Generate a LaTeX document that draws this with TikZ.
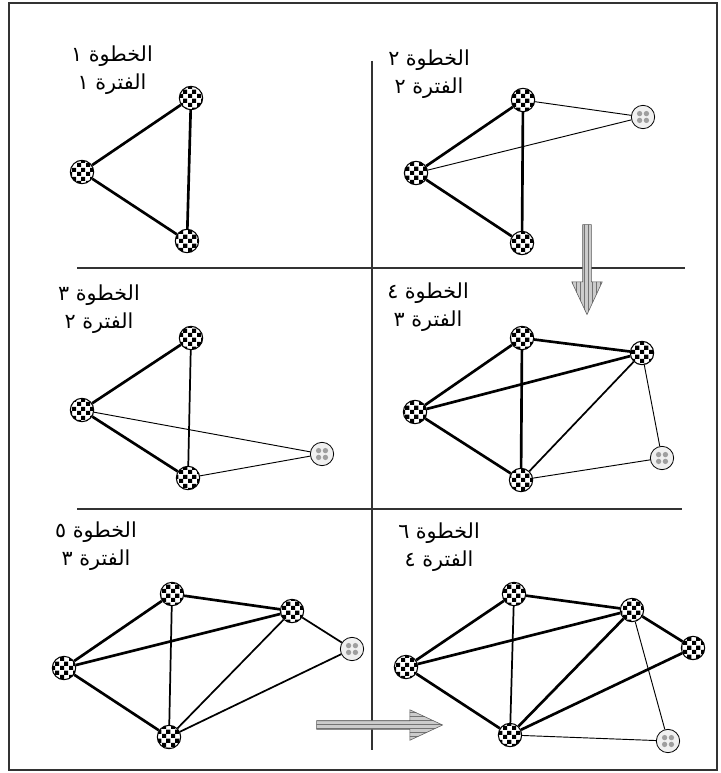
\documentclass[tikz,border=0pt]{standalone}
\usepackage{fontspec}
\newfontfamily\arabicfont[Script=Arabic]{DejaVu Sans}
\TeXXeTstate=1
\usepackage{tikz}
\usetikzlibrary{patterns,shapes.arrows}
\pgfdeclarepatternformonly{bigchecker}{\pgfpointorigin}{\pgfqpoint{6.4pt}{6.4pt}}{\pgfqpoint{6.4pt}{6.4pt}}{%
  \pgfpathrectangle{\pgfpointorigin}{\pgfqpoint{3.2pt}{3.2pt}}%
  \pgfpathrectangle{\pgfqpoint{3.2pt}{3.2pt}}{\pgfqpoint{3.2pt}{3.2pt}}%
  \pgfusepath{fill}}
\tikzset{
  oldnode/.style={circle, draw, line width=0.8pt, minimum size=17.5pt, inner sep=0pt, pattern=bigchecker},
  newnode/.style={circle, draw, line width=0.6pt, minimum size=17.5pt, inner sep=0pt, fill=gray!12,
    path picture={\foreach \a in {45,135,225,315}
      \fill[gray!75] (path picture bounding box.center) ++(\a:3.6pt) circle (2pt);}},
  link/.style={line width=2pt},
  midlink/.style={line width=1.3pt},
  newlink/.style={line width=0.7pt},
  steplabel/.style={font=\arabicfont\fontsize{15.5}{21}\selectfont, align=center},
  bigarrow/.style={single arrow, draw=gray!70!black, line width=0.4pt, inner sep=3pt,
    single arrow head extend=8.25pt, single arrow tip angle=50, preaction={fill=gray!40}},
  divider/.style={line width=1pt, black!80},
}
\begin{document}
\begin{tikzpicture}[x=0.75pt, y=-0.75pt]
    \useasboundingbox (0,0) rectangle (720,773);
    \fill[white] (0,0) rectangle (720,773);
    \draw[line width=1.1pt, black!80] (9,3) rectangle (717,770);
    % Panel dividers
    \draw[divider] (372,61) -- (372,750);
    \draw[divider] (77,268) -- (685,268);
    \draw[divider] (77,509) -- (682,509);
    % Step 1
    \node[steplabel] (t1) at (112,70) {\beginR الخطوة ١\endR\\\beginR الفترة ١\endR};
    \node[oldnode] (a1) at (191,98) {};
    \node[oldnode] (b1) at (82,172) {};
    \node[oldnode] (c1) at (187,241) {};
    \draw[link] (a1) -- (b1);
    \draw[link] (b1) -- (c1);
    \draw[link] (a1) -- (c1);
    % Step 2
    \node[steplabel] (t2) at (429,74) {\beginR الخطوة ٢\endR\\\beginR الفترة ٢\endR};
    \node[oldnode] (a2) at (523,100) {};
    \node[oldnode] (b2) at (416,173) {};
    \node[oldnode] (c2) at (522,243) {};
    \node[newnode] (d2) at (643,117) {};
    \draw[link] (a2) -- (b2);
    \draw[link] (b2) -- (c2);
    \draw[link] (a2) -- (c2);
    \draw[newlink] (a2) -- (d2);
    \draw[newlink] (b2) -- (d2);
    % Step 3
    \node[steplabel] (t3) at (99,309) {\beginR الخطوة ٣\endR\\\beginR الفترة ٢\endR};
    \node[oldnode] (a3) at (191,338) {};
    \node[oldnode] (b3) at (82,410) {};
    \node[oldnode] (c3) at (188,478) {};
    \node[newnode] (d3) at (322,454) {};
    \draw[link] (a3) -- (b3);
    \draw[link] (b3) -- (c3);
    \draw[midlink] (a3) -- (c3);
    \draw[newlink] (b3) -- (d3);
    \draw[newlink] (c3) -- (d3);
    % Step 4
    \node[steplabel] (t4) at (428,307) {\beginR الخطوة ٤\endR\\\beginR الفترة ٣\endR};
    \node[oldnode] (a4) at (522,338) {};
    \node[oldnode] (b4) at (415,412) {};
    \node[oldnode] (c4) at (521,480) {};
    \node[oldnode] (d4) at (642,353) {};
    \node[newnode] (e4) at (662,458) {};
    \draw[link] (a4) -- (b4);
    \draw[link] (b4) -- (c4);
    \draw[link] (a4) -- (c4);
    \draw[link] (a4) -- (d4);
    \draw[link] (b4) -- (d4);
    \draw[midlink] (c4) -- (d4);
    \draw[newlink] (d4) -- (e4);
    \draw[newlink] (c4) -- (e4);
    % Step 5
    \node[steplabel] (t5) at (96,546) {\beginR الخطوة ٥\endR\\\beginR الفترة ٣\endR};
    \node[oldnode] (a5) at (172,594) {};
    \node[oldnode] (b5) at (64,668) {};
    \node[oldnode] (c5) at (169,737) {};
    \node[oldnode] (d5) at (292,611) {};
    \node[newnode] (e5) at (352,649) {};
    \draw[link] (a5) -- (b5);
    \draw[link] (b5) -- (c5);
    \draw[midlink] (a5) -- (c5);
    \draw[link] (a5) -- (d5);
    \draw[link] (b5) -- (d5);
    \draw[midlink] (c5) -- (d5);
    \draw[midlink] (d5) -- (e5);
    \draw[midlink] (c5) -- (e5);
    % Step 6
    \node[steplabel] (t6) at (439,547) {\beginR الخطوة ٦\endR\\\beginR الفترة ٤\endR};
    \node[oldnode] (a6) at (514,594) {};
    \node[oldnode] (b6) at (406,667) {};
    \node[oldnode] (c6) at (510,735) {};
    \node[oldnode] (d6) at (632,610) {};
    \node[oldnode] (e6) at (693,648) {};
    \node[newnode] (f6) at (668,741) {};
    \draw[link] (a6) -- (b6);
    \draw[link] (b6) -- (c6);
    \draw[midlink] (a6) -- (c6);
    \draw[link] (a6) -- (d6);
    \draw[link] (b6) -- (d6);
    \draw[link] (c6) -- (d6);
    \draw[link] (d6) -- (e6);
    \draw[link] (c6) -- (e6);
    \draw[newlink] (d6) -- (f6);
    \draw[newlink] (c6) -- (f6);
    % Flow arrows
    \node[bigarrow, rotate=-90, minimum height=67.5pt, pattern=vertical lines, pattern color=gray!90!black] (down) at (587,265) {};
    \node[bigarrow, minimum height=94.5pt, pattern=horizontal lines, pattern color=gray!90!black] (right) at (375,725) {};
\end{tikzpicture}
\end{document}
